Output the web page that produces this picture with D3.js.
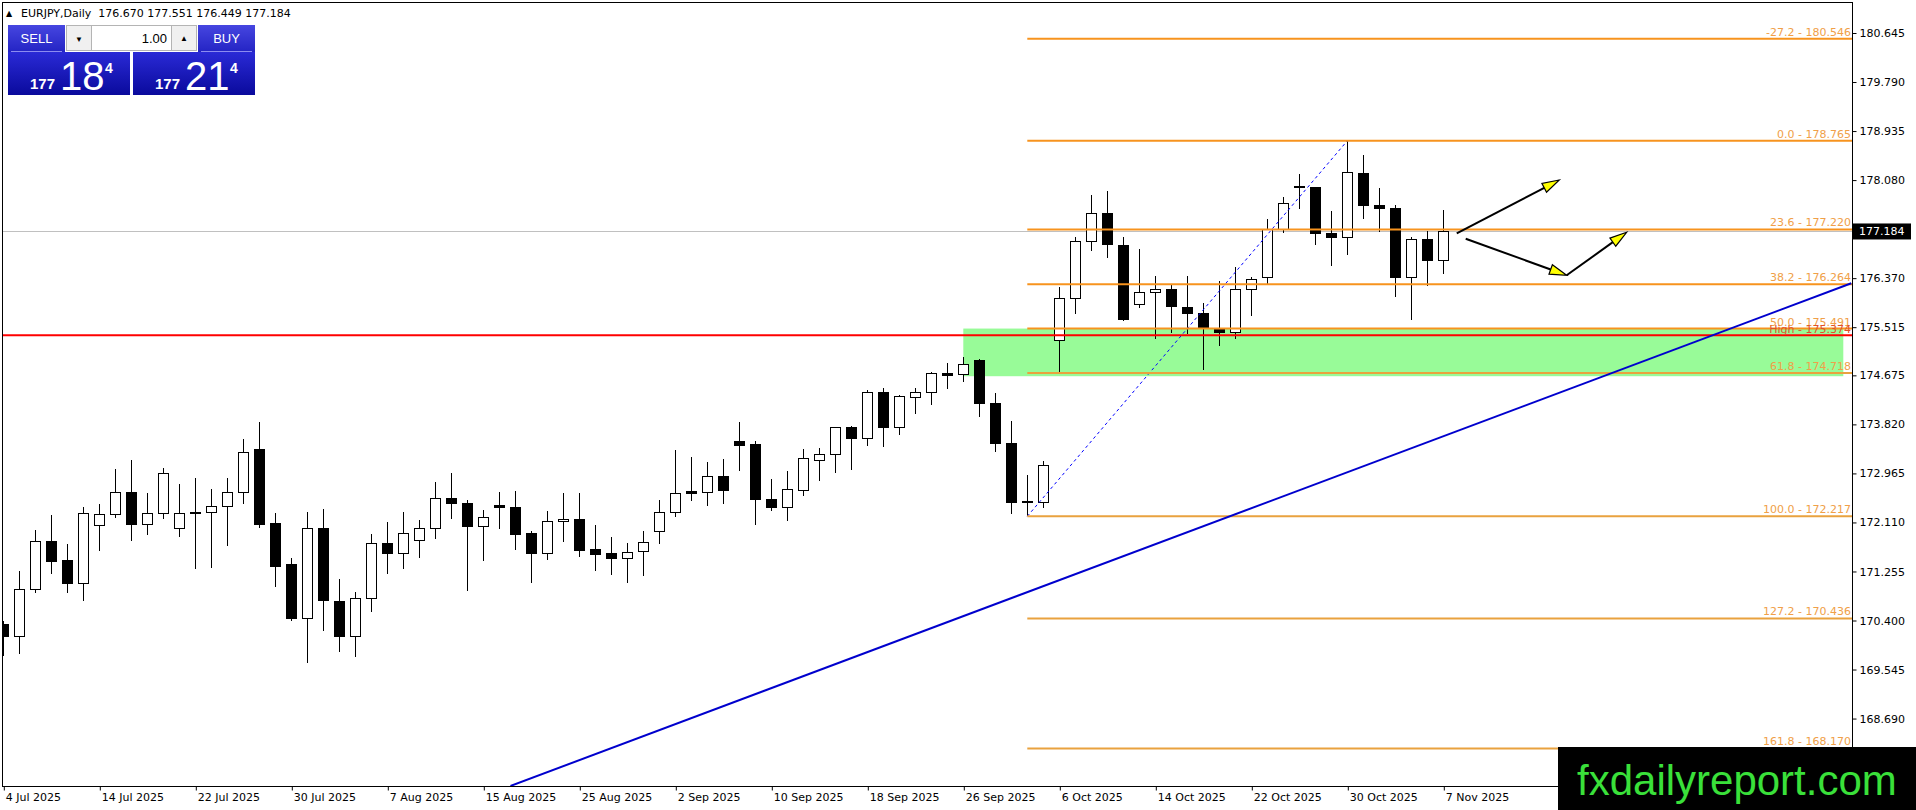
<!DOCTYPE html>
<html>
<head>
<meta charset="utf-8">
<script src="https://cdn.jsdelivr.net/npm/d3@7"></script>
<style>
  body { margin: 0; background: #fff; }
  svg { display: block; }
</style>
</head>
<body>
<svg width="1916" height="810"></svg>
<script>
// EURJPY daily bars, 4 Jul 2025 .. 7 Nov 2025 (index 0..90)
const open = [170.322,170.119,170.944,171.781,171.438,171.043,172.054,172.252,172.635,172.072,
  172.269,172.008,172.287,172.287,172.391,172.635,173.374,172.083,171.368,170.433,
  172.008,170.723,170.119,170.781,171.746,171.566,171.793,172.008,172.531,172.444,
  172.037,172.409,172.362,171.909,171.572,172.124,172.153,171.630,171.560,171.479,
  171.601,171.950,172.281,172.641,172.630,172.915,173.513,173.461,172.513,172.374,
  172.670,173.194,173.298,173.769,173.577,174.379,173.763,174.292,174.379,174.711,
  174.682,174.926,174.188,173.490,172.473,172.462,175.286,176.019,177.013,177.501,
  176.943,175.914,176.123,176.176,175.862,175.746,175.467,175.426,176.176,176.385,
  177.210,177.966,177.954,177.152,177.082,178.198,177.640,177.588,176.385,177.048,176.670];
const high = [170.398,171.264,171.979,172.240,171.734,172.374,172.432,173.042,173.199,172.624,
  173.054,172.781,172.885,172.693,172.885,173.565,173.862,172.269,171.490,172.287,
  172.345,171.124,170.897,171.903,172.118,172.292,172.153,172.821,172.972,172.496,
  172.327,172.641,172.659,171.961,172.310,172.624,172.624,172.066,171.857,171.752,
  171.961,172.502,173.374,173.252,173.164,173.217,173.862,173.531,172.868,173.008,
  173.391,173.409,173.780,173.786,174.414,174.449,174.327,174.449,174.728,174.885,
  175.002,174.955,174.362,173.880,172.938,173.188,176.211,177.094,177.821,177.890,
  177.094,176.873,176.408,176.263,176.408,175.932,176.327,176.559,176.385,177.396,
  177.780,178.187,177.960,177.547,178.765,178.518,177.937,177.640,177.094,177.193,177.551];
const low = [169.782,169.816,170.886,171.211,170.880,170.741,171.612,172.194,171.787,171.891,
  172.170,171.857,171.299,171.316,171.700,172.432,172.008,170.985,170.398,169.665,
  170.223,169.851,169.764,170.555,171.211,171.299,171.490,171.822,172.176,170.921,
  171.438,171.996,171.630,171.060,171.456,171.775,171.514,171.270,171.200,171.060,
  171.177,171.740,172.211,172.490,172.403,172.432,173.013,172.072,172.316,172.141,
  172.577,172.839,172.973,173.031,173.449,173.432,173.641,174.001,174.164,174.443,
  174.554,173.944,173.345,172.252,172.217,172.369,174.694,175.740,176.850,176.728,
  175.624,175.856,175.304,175.409,175.397,174.775,175.188,175.304,175.717,176.263,
  177.152,177.576,176.955,176.588,176.780,177.408,177.181,176.048,175.647,176.240,176.449];
const close = [170.119,170.944,171.781,171.426,171.043,172.269,172.252,172.635,172.072,172.269,
  172.967,172.269,172.263,172.391,172.635,173.333,172.066,171.339,170.427,172.008,
  170.741,170.119,170.787,171.746,171.566,171.920,172.008,172.531,172.438,172.037,
  172.200,172.368,171.897,171.566,172.130,172.165,171.613,171.549,171.479,171.589,
  171.764,172.287,172.618,172.612,172.915,172.665,173.449,172.508,172.368,172.676,
  173.228,173.298,173.769,173.571,174.379,173.763,174.309,174.379,174.711,174.670,
  174.868,174.176,173.490,172.462,172.462,173.107,176.019,177.013,177.501,176.960,
  175.641,176.123,176.176,175.874,175.757,175.513,175.420,176.176,176.350,177.210,
  177.675,177.948,177.152,177.082,178.216,177.635,177.588,176.385,177.048,176.681,177.184];

const dateTickBars = [0, 6, 12, 18, 24, 30, 36, 42, 48, 54, 60, 66, 72, 78, 84, 90];
const dateTickLabels = ["4 Jul 2025", "14 Jul 2025", "22 Jul 2025", "30 Jul 2025", "7 Aug 2025",
  "15 Aug 2025", "25 Aug 2025", "2 Sep 2025", "10 Sep 2025", "18 Sep 2025", "26 Sep 2025",
  "6 Oct 2025", "14 Oct 2025", "22 Oct 2025", "30 Oct 2025", "7 Nov 2025"];
const priceTicks = [180.645, 179.790, 178.935, 178.080, 176.370, 175.515, 174.675, 173.820,
  172.965, 172.110, 171.255, 170.400, 169.545, 168.690];

// Fibonacci retracement (100 at bar 64 low, 0 at bar 84 high)
const fibBars = [64, 84];
const fibPrices = [172.217, 178.765];
const fibRatios = ["-27.2", "0.0", "23.6", "38.2", "50.0", "61.8", "100.0", "127.2", "161.8"];
const fibValues = [180.546, 178.765, 177.220, 176.264, 175.491, 174.718, 172.217, 170.436, 168.170];

const highLevel = 175.374;
const zoneBars = [60, 115];
const zonePrices = [175.491, 174.66];
const trendBars = [31.7, 115.5];
const trendPrices = [167.515, 176.28];
const arrowFrom = [[90.84, 177.152], [91.4, 177.058], [97.71, 176.420]];
const arrowTo = [[97.25, 178.082], [97.71, 176.420], [101.46, 177.170]];

const symbol = "EURJPY,Daily";
const lastBid = 177.184, lastAsk = 177.214, lot = "1.00";

const svg = d3.select("svg");
const pL = 2, pT = 2, pR = 1852, pB = 786;
const font = "DejaVu Sans, Verdana, sans-serif";

const x = d3.scaleLinear().domain([0, 90]).range([3.3, 1443.3]);
const y = d3.scaleLinear().domain([170.400, 180.645]).range([620.5, 33]);

svg.append("rect").attr("width", 1916).attr("height", 810).attr("fill", "#fff");

svg.append("clipPath").attr("id", "plot")
  .append("rect").attr("x", pL).attr("y", pT)
  .attr("width", pR - pL).attr("height", pB - pT);

const g = svg.append("g").attr("clip-path", "url(#plot)");

// green zone
g.append("rect")
  .attr("x", x(zoneBars[0])).attr("y", y(zonePrices[0]))
  .attr("width", x(zoneBars[1]) - x(zoneBars[0]))
  .attr("height", y(zonePrices[1]) - y(zonePrices[0]))
  .attr("fill", "#98fb98");

// bid line
g.append("line")
  .attr("x1", pL).attr("x2", pR)
  .attr("y1", Math.round(y(lastBid)) + 0.5).attr("y2", Math.round(y(lastBid)) + 0.5)
  .attr("stroke", "#c0c0c0").attr("stroke-width", 1);

// candles
const bars = d3.range(open.length).map(i => ({
  i, o: open[i], h: high[i], l: low[i], c: close[i]
}));
const candle = g.selectAll(".candle").data(bars).enter().append("g")
  .attr("class", "candle")
  .attr("shape-rendering", "crispEdges");
candle.append("line")
  .attr("x1", d => Math.round(x(d.i)) + 0.5).attr("x2", d => Math.round(x(d.i)) + 0.5)
  .attr("y1", d => y(d.h)).attr("y2", d => y(d.l))
  .attr("stroke", "#000");
candle.append("rect")
  .attr("x", d => Math.round(x(d.i)) - 4.5)
  .attr("y", d => y(Math.max(d.o, d.c)))
  .attr("width", 10)
  .attr("height", d => Math.max(1, y(Math.min(d.o, d.c)) - y(Math.max(d.o, d.c))))
  .attr("fill", d => d.c >= d.o ? "#fff" : "#000")
  .attr("stroke", "#000");

// fib dashed anchor line
g.append("line")
  .attr("x1", x(fibBars[0])).attr("y1", y(fibPrices[0]))
  .attr("x2", x(fibBars[1])).attr("y2", y(fibPrices[1]))
  .attr("stroke", "#0000ff").attr("stroke-width", 1).attr("stroke-dasharray", "3,3");

// red "High" line
g.append("line")
  .attr("x1", pL).attr("x2", pR)
  .attr("y1", y(highLevel)).attr("y2", y(highLevel))
  .attr("stroke", "#ff0000").attr("stroke-width", 2);

// fib levels
g.selectAll(".fib").data(fibValues).enter().append("line")
  .attr("x1", x(fibBars[0])).attr("x2", pR)
  .attr("y1", d => y(d)).attr("y2", d => y(d))
  .attr("stroke", (d, i) => i >= 5 ? "#e9a23f" : "#f7931e").attr("stroke-width", 2);

g.selectAll(".fibLabel").data(fibValues).enter().append("text")
  .attr("x", pR - 1).attr("y", d => y(d) - 3)
  .attr("text-anchor", "end")
  .attr("font-family", font).attr("font-size", 11)
  .attr("fill", "#f0a048")
  .text((d, i) => `${fibRatios[i]} - ${d.toFixed(3)}`);

g.append("text")
  .attr("x", pR - 1).attr("y", y(highLevel) - 2)
  .attr("text-anchor", "end")
  .attr("font-family", font).attr("font-size", 11)
  .attr("fill", "#e0502a")
  .text(`High - ${highLevel.toFixed(3)}`);

// blue trend line
g.append("line")
  .attr("x1", x(trendBars[0])).attr("y1", y(trendPrices[0]))
  .attr("x2", x(trendBars[1])).attr("y2", y(trendPrices[1]))
  .attr("stroke", "#0000cd").attr("stroke-width", 2);

// arrows
arrowFrom.forEach((p, k) => {
  const x1 = x(p[0]), y1 = y(p[1]), x2 = x(arrowTo[k][0]), y2 = y(arrowTo[k][1]);
  const a = Math.atan2(y2 - y1, x2 - x1);
  const len = 17, w = 5;
  const bx = x2 - len * Math.cos(a), by = y2 - len * Math.sin(a);
  g.append("line")
    .attr("x1", x1).attr("y1", y1).attr("x2", bx).attr("y2", by)
    .attr("stroke", "#000").attr("stroke-width", 2);
  g.append("polygon")
    .attr("points", [
      [x2, y2],
      [bx + w * Math.sin(a), by - w * Math.cos(a)],
      [bx - w * Math.sin(a), by + w * Math.cos(a)]
    ].map(q => q.join(",")).join(" "))
    .attr("fill", "#ffff00").attr("stroke", "#000").attr("stroke-width", 1.2);
});

// frame
svg.append("rect")
  .attr("x", pL + 0.5).attr("y", pT + 0.5)
  .attr("width", pR - pL).attr("height", pB - pT)
  .attr("fill", "none").attr("stroke", "#000").attr("shape-rendering", "crispEdges");

// right price axis
const yAxis = svg.append("g")
  .attr("transform", `translate(${pR + 0.5},0)`)
  .call(d3.axisRight(y).tickValues(priceTicks).tickSize(4).tickFormat(d3.format(".3f")));
yAxis.select(".domain").remove();
yAxis.selectAll("text").attr("font-family", font).attr("font-size", 11).attr("fill", "#000");

// current price tag
const by0 = y(lastBid);
svg.append("rect").attr("x", pR + 1).attr("y", by0 - 8).attr("width", 58).attr("height", 16)
  .attr("fill", "#000");
svg.append("text").attr("x", pR + 7).attr("y", by0 + 4)
  .attr("font-family", font).attr("font-size", 11).attr("fill", "#fff")
  .text(lastBid.toFixed(3));

// bottom date axis
const xAxis = svg.append("g")
  .attr("transform", `translate(0,${pB + 0.5})`)
  .call(d3.axisBottom(x).tickValues(dateTickBars).tickSize(4)
    .tickFormat((d, i) => dateTickLabels[i]));
xAxis.select(".domain").remove();
xAxis.selectAll(".tick line").attr("transform", "translate(0.5,0)");
xAxis.selectAll("text").attr("font-family", font).attr("font-size", 11).attr("fill", "#000")
  .attr("text-anchor", "start").attr("dx", 2);

// header
svg.append("text").attr("x", 6).attr("y", 16)
  .attr("font-family", font).attr("font-size", 8).text("▲");
svg.append("text").attr("x", 21).attr("y", 17)
  .attr("font-family", font).attr("font-size", 11).attr("fill", "#000")
  .attr("xml:space", "preserve")
  .text(`${symbol}  ${open[90].toFixed(3)} ${high[90].toFixed(3)} ${low[90].toFixed(3)} ${close[90].toFixed(3)}`);

// one-click trading panel
const defs = svg.append("defs");
const g1 = defs.append("linearGradient").attr("id", "btn").attr("x1", 0).attr("x2", 0).attr("y1", 0).attr("y2", 1);
g1.append("stop").attr("offset", 0).attr("stop-color", "#4646e0");
g1.append("stop").attr("offset", 1).attr("stop-color", "#2424c4");
const g2 = defs.append("linearGradient").attr("id", "px").attr("x1", 0).attr("x2", 0).attr("y1", 0).attr("y2", 1);
g2.append("stop").attr("offset", 0).attr("stop-color", "#2a2ad6");
g2.append("stop").attr("offset", 1).attr("stop-color", "#0a0a9c");

const panel = svg.append("g").attr("font-family", "Liberation Sans, Arial, sans-serif");
panel.append("rect").attr("x", 8).attr("y", 25).attr("width", 57).attr("height", 27).attr("fill", "url(#btn)");
panel.append("rect").attr("x", 198).attr("y", 25).attr("width", 57).attr("height", 27).attr("fill", "url(#btn)");
panel.append("line").attr("x1", 11).attr("x2", 62).attr("y1", 51.5).attr("y2", 51.5).attr("stroke", "#8c8cf0");
panel.append("line").attr("x1", 201).attr("x2", 252).attr("y1", 51.5).attr("y2", 51.5).attr("stroke", "#8c8cf0");
panel.append("text").attr("x", 36.5).attr("y", 43).attr("text-anchor", "middle")
  .attr("font-size", 13).attr("fill", "#fff").text("SELL");
panel.append("text").attr("x", 226.5).attr("y", 43).attr("text-anchor", "middle")
  .attr("font-size", 13).attr("fill", "#fff").text("BUY");

panel.append("rect").attr("x", 66.5).attr("y", 25.5).attr("width", 130).attr("height", 25)
  .attr("fill", "#f0f0f0").attr("stroke", "#b4b4b4");
panel.append("rect").attr("x", 91.5).attr("y", 25.5).attr("width", 80).attr("height", 25)
  .attr("fill", "#fff").attr("stroke", "#b4b4b4");
panel.append("text").attr("x", 79).attr("y", 42).attr("text-anchor", "middle")
  .attr("font-size", 8).attr("fill", "#000").text("▼");
panel.append("text").attr("x", 184).attr("y", 41).attr("text-anchor", "middle")
  .attr("font-size", 8).attr("fill", "#000").text("▲");
panel.append("text").attr("x", 167).attr("y", 43).attr("text-anchor", "end")
  .attr("font-size", 13).attr("fill", "#000").text(lot);

function priceBox(px, price) {
  const s = price.toFixed(3);
  panel.append("rect").attr("x", px).attr("y", 52).attr("width", 122).attr("height", 43)
    .attr("fill", "url(#px)");
  panel.append("text").attr("x", px + 22).attr("y", 89)
    .attr("font-size", 15).attr("font-weight", "bold").attr("fill", "#fff").text(s.slice(0, 3));
  panel.append("text").attr("x", px + 52).attr("y", 90)
    .attr("font-size", 40).attr("fill", "#fff").text(s.slice(4, 6));
  panel.append("text").attr("x", px + 97).attr("y", 73)
    .attr("font-size", 14).attr("font-weight", "bold").attr("fill", "#fff").text(s.slice(6));
}
priceBox(8, lastBid);
priceBox(133, lastAsk);

// watermark
svg.append("rect").attr("x", 1558).attr("y", 747).attr("width", 358).attr("height", 63).attr("fill", "#000");
svg.append("text").attr("x", 1577).attr("y", 795)
  .attr("font-family", "Liberation Sans, Arial, sans-serif").attr("font-size", 42)
  .attr("fill", "#3ae03a").text("fxdailyreport.com");
</script>
</body>
</html>
